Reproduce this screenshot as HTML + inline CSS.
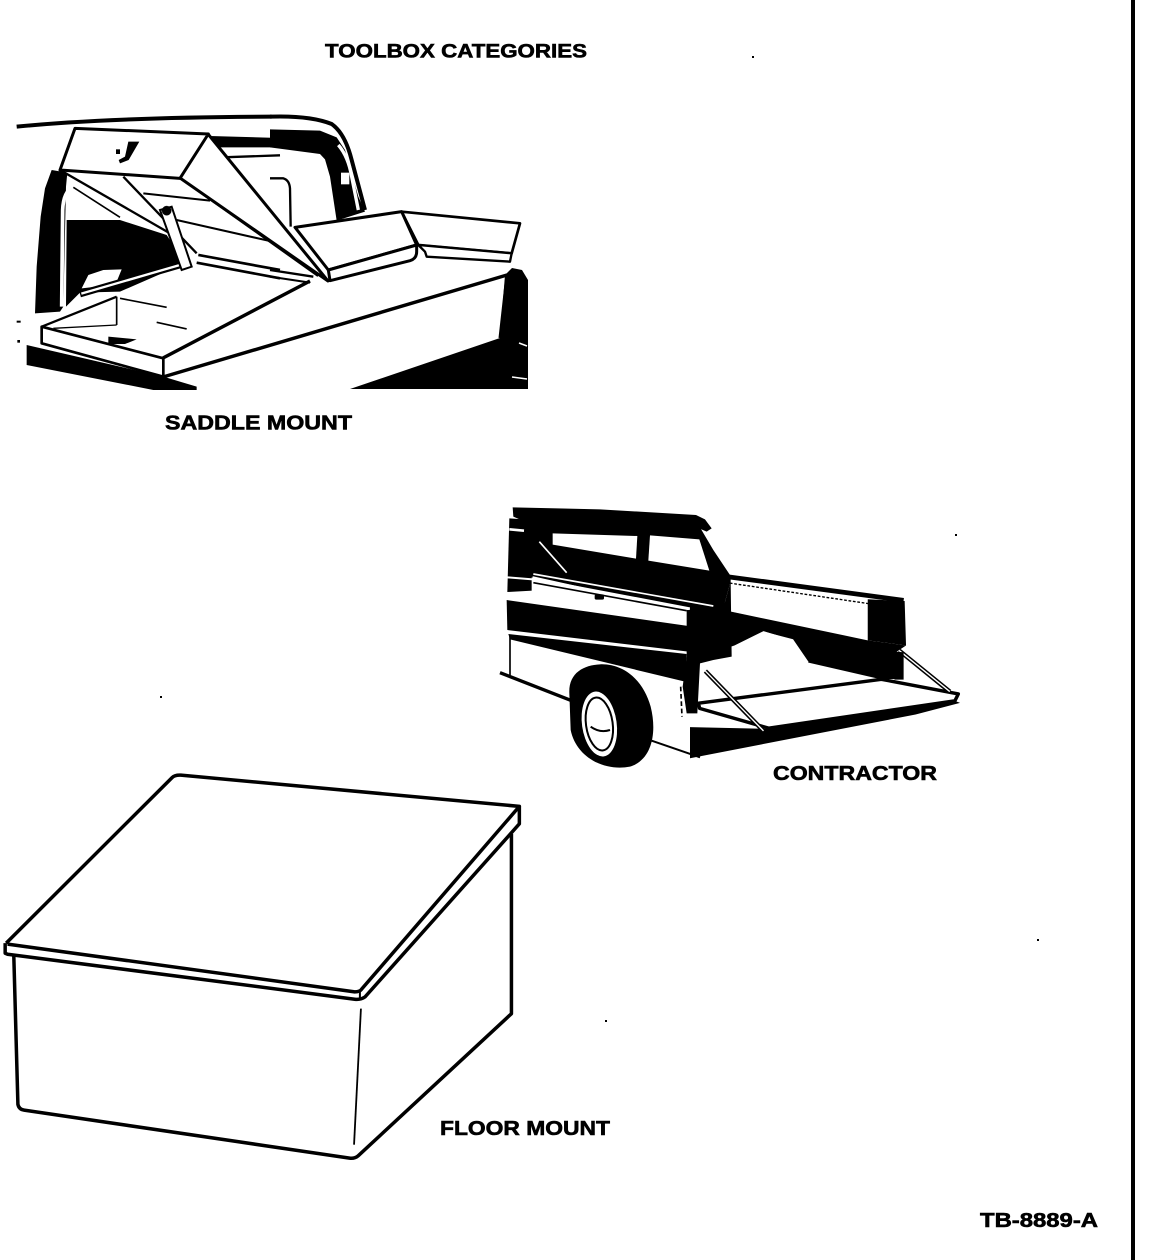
<!DOCTYPE html>
<html><head><meta charset="utf-8"><style>
html,body{margin:0;padding:0;background:#fff;}
svg{display:block;}
text{font-family:"Liberation Sans",Arial,sans-serif;font-weight:bold;fill:#000;stroke:#000;stroke-width:0.6px;}
</style></head><body>
<svg width="1152" height="1260" viewBox="0 0 1152 1260" xmlns="http://www.w3.org/2000/svg">
<rect width="1152" height="1260" fill="#fff"/>
<!-- right border line -->
<rect x="1131" y="0" width="4" height="1260" fill="#000"/>

<!-- texts -->
<text x="325" y="57.5" font-size="19.5" textLength="262" lengthAdjust="spacingAndGlyphs">TOOLBOX CATEGORIES</text>
<text x="165" y="429.5" font-size="20" textLength="187" lengthAdjust="spacingAndGlyphs">SADDLE MOUNT</text>
<text x="773" y="780" font-size="20" textLength="164" lengthAdjust="spacingAndGlyphs">CONTRACTOR</text>
<text x="440" y="1135" font-size="20" textLength="170" lengthAdjust="spacingAndGlyphs">FLOOR MOUNT</text>
<text x="980" y="1227" font-size="20" textLength="118" lengthAdjust="spacingAndGlyphs">TB-8889-A</text>

<!-- specks -->
<rect x="752" y="56" width="2" height="2" fill="#000"/>
<rect x="955" y="534" width="2" height="2" fill="#000"/>
<rect x="605" y="1020" width="2" height="2" fill="#000"/>
<rect x="1037" y="939" width="2" height="2" fill="#000"/>
<rect x="160" y="696" width="2" height="2" fill="#000"/>

<!-- ================= SADDLE MOUNT ================= -->
<!-- zoom8 cab parts -->
<g transform="translate(270,110) scale(0.33333)">
  <path d="M0,20 Q120,16 185,42 Q225,70 245,150 L285,300" fill="none" stroke="#000" stroke-width="12"/>
  <polygon points="0,58 150,62 200,82 225,120 245,190 265,260 285,305 200,332 180,200 165,148 150,132 0,112" fill="#000"/>
  <path d="M205,105 Q235,140 245,200 L265,300" fill="none" stroke="#fff" stroke-width="10"/>
  <rect x="213" y="188" width="25" height="35" fill="#fff"/>
  <path d="M0,205 L40,205 Q58,210 60,235 L62,350" fill="none" stroke="#000" stroke-width="7"/>
</g>
<!-- zoom7 cab parts -->
<g transform="translate(10,110) scale(0.33333)">
  <path d="M20,50 Q300,22 785,20" fill="none" stroke="#000" stroke-width="12"/>
  <polygon points="600,78 810,84 810,112 625,112" fill="#000"/>
  <line x1="640" y1="142" x2="810" y2="136" stroke="#000" stroke-width="7"/>
  <polygon points="125,180 172,188 168,230 160,590 150,605 75,610 80,470 92,320 105,235" fill="#000"/>
  <path d="M190,230 Q160,245 158,300 L155,590" fill="none" stroke="#fff" stroke-width="11"/>
  <polygon points="170,330 330,330 470,375 520,450 490,475 330,545 210,548 168,590" fill="#000"/>
  <polygon points="215,535 235,495 280,480 335,478 320,515 260,530" fill="#fff"/>
  <line x1="190" y1="232" x2="330" y2="322" stroke="#000" stroke-width="5"/>
  <line x1="150" y1="180" x2="480" y2="370" stroke="#000" stroke-width="7"/>
  <line x1="340" y1="200" x2="560" y2="430" stroke="#000" stroke-width="7"/>
  <line x1="400" y1="250" x2="600" y2="272" stroke="#000" stroke-width="6"/>
  <line x1="500" y1="330" x2="810" y2="400" stroke="#000" stroke-width="6"/>
</g>

<!-- bottom black masses & box edges (full coords) -->
<polygon points="350,389 500,338 505,275 512,268 522,270 528,280 528,389" fill="#000"/>
<line x1="163" y1="377" x2="507" y2="275" stroke="#000" stroke-width="3.5"/>
<line x1="507" y1="275" x2="500" y2="338" stroke="#000" stroke-width="3"/>
<line x1="163" y1="358" x2="310" y2="281" stroke="#000" stroke-width="3.5"/>
<line x1="519" y1="343" x2="527" y2="346" stroke="#fff" stroke-width="1.5"/>
<line x1="512" y1="377" x2="527" y2="379" stroke="#fff" stroke-width="1.5"/>

<!-- closed lids zoom8 -->
<g transform="translate(270,110) scale(0.33333)" stroke="#000" stroke-linejoin="round">
  <polygon points="395,305 750,340 725,430 445,405" fill="#fff" stroke-width="8"/>
  <polygon points="445,405 725,430 720,455 470,440 465,425" fill="#fff" stroke-width="7"/>
  <polygon points="75,352 395,305 440,405 175,480" fill="#fff" stroke-width="9"/>
  <path d="M175,480 L180,512 L420,452 Q440,446 440,425 L440,405 Z" fill="#fff" stroke-width="9"/>
  <line x1="0" y1="480" x2="130" y2="500" stroke-width="7"/>
  <line x1="0" y1="500" x2="120" y2="518" stroke-width="6"/>
</g>

<!-- tray lines, strut zoom7 -->
<g transform="translate(10,110) scale(0.33333)" stroke="#000">
  <line x1="565" y1="435" x2="810" y2="480" stroke-width="8"/>
  <line x1="560" y1="458" x2="810" y2="505" stroke-width="8"/>
  <line x1="210" y1="552" x2="520" y2="462" stroke-width="20"/>
  <line x1="214" y1="551" x2="516" y2="463" stroke="#fff" stroke-width="7"/>
  <polygon points="450,300 485,290 545,470 515,480" fill="#fff" stroke-width="6"/>
  <circle cx="470" cy="302" r="14" fill="#000"/>
</g>

<!-- raised lid side panel (full) -->
<polygon points="208,134 328,281 180,178" fill="#fff" stroke="#000" stroke-width="3" stroke-linejoin="round"/>
<line x1="180" y1="178" x2="318" y2="276" stroke="#000" stroke-width="2"/>

<!-- raised lid top & left compartment zoom7 -->
<g transform="translate(10,110) scale(0.33333)" stroke="#000" stroke-linejoin="round">
  <polygon points="195,55 595,72 510,205 150,180" fill="#fff" stroke-width="9"/>
  <path d="M355,95 L388,95 L356,150 L330,160 L326,150 L345,140 Z" fill="#000" stroke="none"/>
  <rect x="318" y="118" width="12" height="14" fill="#000" stroke="none"/>
  <polygon points="50,705 460,800 560,830 560,840 430,840 50,765" fill="#000" stroke="none"/>
  <polygon points="95,650 460,745 460,800 95,700" fill="#fff" stroke-width="8"/>
  <line x1="95" y1="650" x2="320" y2="560" stroke-width="7"/>
  <line x1="320" y1="560" x2="320" y2="645" stroke-width="5"/>
  <line x1="330" y1="565" x2="470" y2="592" stroke-width="5"/>
  <line x1="440" y1="637" x2="530" y2="657" stroke-width="5"/>
  <line x1="130" y1="655" x2="320" y2="645" stroke-width="4"/>
  <polygon points="295,680 380,688 345,702 295,702" fill="#000" stroke="none"/>
  <rect x="20" y="632" width="12" height="6" fill="#000" stroke="none"/>
  <rect x="22" y="690" width="8" height="8" fill="#000" stroke="none"/>
</g>

<!-- ================= CONTRACTOR ================= -->
<!-- bed area zoom10 coords -->
<g transform="translate(690,560) scale(0.3418)">
  <polygon points="0,20 60,40 115,150 520,235 632,250 605,268 600,348 555,348 345,300 300,234 215,208 130,250 25,285 0,290" fill="#000"/>
  <polygon points="62,52 525,122 525,232 118,150" fill="#fff"/>
  <line x1="58" y1="42" x2="625" y2="118" stroke="#000" stroke-width="14"/>
  <line x1="65" y1="60" x2="525" y2="128" stroke="#000" stroke-width="4" stroke-dasharray="8 5"/>
  <polygon points="520,115 628,120 632,250 520,235" fill="#000"/>
  <path d="M215,212 L300,234 L345,300" fill="none" stroke="#fff" stroke-width="5"/>
  <polygon points="0,489 230,494 775,412 790,418 660,452 0,580" fill="#000"/>
  <polygon points="25,419 560,349 785,392 775,412 230,492 28,434" fill="#fff" stroke="#000" stroke-width="10" stroke-linejoin="round"/>
  <line x1="45" y1="325" x2="215" y2="500" stroke="#000" stroke-width="13"/>
  <line x1="45" y1="325" x2="215" y2="500" stroke="#fff" stroke-width="4"/>
  <line x1="612" y1="265" x2="760" y2="385" stroke="#000" stroke-width="13"/>
  <line x1="612" y1="265" x2="760" y2="385" stroke="#fff" stroke-width="4"/>
  <polygon points="598,268 625,270 625,350 598,350" fill="#000"/>
</g>

<!-- truck body zoom9 coords -->
<g transform="translate(500,500) scale(0.33333)">
  <!-- roof -->
  <polygon points="38,22 300,28 588,45 615,58 635,85 620,95 595,84 100,76 40,50" fill="#000"/>
  <!-- cab rear -->
  <polygon points="95,72 600,82 640,150 692,228 692,245 668,330 565,332 95,228" fill="#000"/>
  <!-- left column -->
  <polygon points="28,55 98,60 98,272 22,276" fill="#000"/>
  <line x1="28" y1="88" x2="72" y2="92" stroke="#fff" stroke-width="8"/>
  <line x1="22" y1="232" x2="98" y2="238" stroke="#fff" stroke-width="6"/>
  <!-- windows -->
  <polygon points="158,100 412,108 408,176 158,134" fill="#fff"/>
  <polygon points="450,106 598,118 628,212 445,182" fill="#fff"/>
  <polygon points="130,135 400,178 200,215" fill="#000"/>
  <line x1="118" y1="125" x2="200" y2="218" stroke="#fff" stroke-width="5"/>
  <line x1="100" y1="222" x2="640" y2="318" stroke="#fff" stroke-width="5"/>
  <!-- box face -->
  <polygon points="95,232 570,322 565,378 20,298 24,280 95,278" fill="#fff"/>
  <line x1="100" y1="248" x2="560" y2="332" stroke="#000" stroke-width="5"/>
  <rect x="284" y="283" width="28" height="16" rx="5" fill="#000"/>
  <!-- bands -->
  <polygon points="20,300 565,378 565,455 22,390" fill="#000"/>
  <polygon points="25,402 560,462 555,545 30,418" fill="#000"/>
  <!-- rear end block -->
  <polygon points="560,330 668,330 692,245 695,470 640,480 600,490 592,640 560,640 548,560 560,470" fill="#000"/>
  <!-- body lines -->
  <line x1="30" y1="405" x2="30" y2="525" stroke="#000" stroke-width="5"/>
  <line x1="0" y1="518" x2="215" y2="602" stroke="#000" stroke-width="10"/>
  <line x1="542" y1="560" x2="546" y2="650" stroke="#000" stroke-width="5" stroke-dasharray="14 8"/>
  <line x1="455" y1="722" x2="600" y2="772" stroke="#000" stroke-width="6"/>
  <!-- wheel -->
  <path d="M208,580 C205,520 250,495 300,493 C370,490 430,540 452,620 C472,700 455,780 390,800 C310,815 228,770 212,690 Z" fill="#000"/>
  <ellipse cx="298" cy="672" rx="52" ry="98" transform="rotate(-8 298 672)" fill="#fff"/>
  <ellipse cx="298" cy="672" rx="40" ry="80" transform="rotate(-8 298 672)" fill="none" stroke="#000" stroke-width="6"/>
  <path d="M272,680 Q300,700 330,690" fill="none" stroke="#000" stroke-width="6"/>
</g>

<!-- ================= FLOOR MOUNT ================= -->
<g transform="translate(0,760) scale(0.3444,0.336)" fill="none" stroke="#000" stroke-linejoin="round">
  <path d="M18,545 L500,52 Q508,44 525,45 L1508,138 L1050,682 Q1045,690 1030,690 L22,548" vector-effect="non-scaling-stroke" style="stroke-width:3.5px"/>
  <path d="M15,545 L15,575 L22,578 L1030,712 Q1048,714 1060,705 L1508,190 L1508,138" vector-effect="non-scaling-stroke" style="stroke-width:3.5px"/>
  <line x1="1045" y1="686" x2="1045" y2="712" vector-effect="non-scaling-stroke" style="stroke-width:2px"/>
  <path d="M40,580 L52,1025 Q55,1040 70,1042 L1015,1185 Q1030,1187 1040,1178 L1485,755 L1485,220" vector-effect="non-scaling-stroke" style="stroke-width:3.5px"/>
  <path d="M1048,740 L1028,1145" vector-effect="non-scaling-stroke" style="stroke-width:1.8px"/>
</g>
</svg>
</body></html>
